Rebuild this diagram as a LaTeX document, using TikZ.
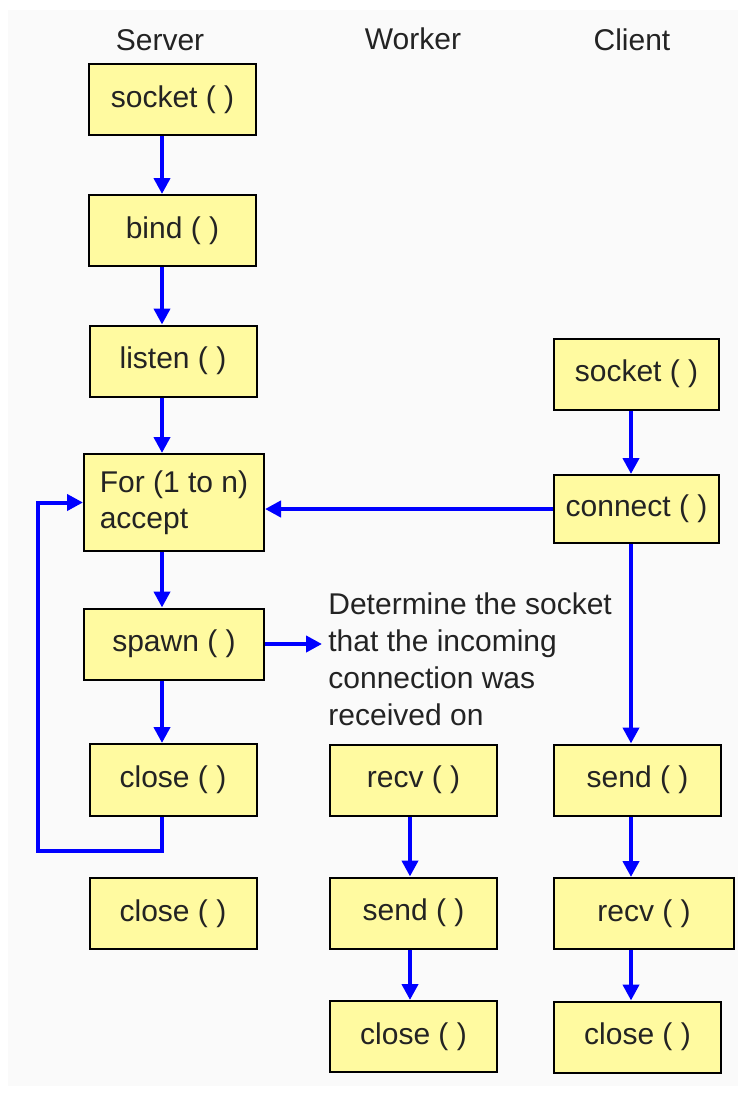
\documentclass[tikz,border=0pt]{standalone}
\usepackage{fontspec}
\setmainfont{Liberation Sans}
\usetikzlibrary{arrows.meta}
\definecolor{boxyellow}{RGB}{255,250,160}
\definecolor{flowblue}{RGB}{0,0,255}
\definecolor{bggray}{RGB}{250,250,250}
\definecolor{txtgray}{RGB}{35,35,35}
\begin{document}
\begin{tikzpicture}[x=0.5pt,y=-0.5pt,
    call/.style={draw=black,line width=1pt,fill=boxyellow,minimum width=83.5pt,minimum height=35.5pt,
                 inner sep=0pt,text=txtgray,font=\fontsize{15}{18}\selectfont},
    widecall/.style={call,minimum width=90pt},
    head/.style={text=txtgray,font=\fontsize{15}{18}\selectfont},
    flow/.style={draw=flowblue,line width=2pt,-{Triangle[length=8pt,width=8pt]}}]
		\useasboundingbox (0,0) rectangle (744,1093);
		\fill[bggray] (8,10) rectangle (738,1086);                 % Fundo
		% Colunas das setas
		\coordinate (srv) at (162,0);
		\coordinate (wrk) at (410,0);
		\coordinate (cli) at (631,0);
		\coordinate (loopCorner) at (38,851);
		% Titulos
		\node[head] (hServer) at (160,40) {Server};
		\node[head] (hWorker) at (413,39) {Worker};
		\node[head] (hClient) at (632,40) {Client};
		% Servidor
		\node[call] (sSocket) at (172.5,99.5) {socket ( )};
		\node[call] (sBind) at (172.5,230.5) {bind ( )};
		\node[call] (sListen) at (173,361) {listen ( )};
		\node[widecall,minimum height=48.5pt,align=left] (sAccept) at (174,502.5) {For (1 to n)\\accept};
		\node[widecall] (sSpawn) at (174,644) {spawn ( )};
		\node[call,minimum height=36pt] (sClose) at (173,780) {close ( )};
		\node[call] (sCloseEnd) at (173,913.5) {close ( )};
		% Worker
		\node[call] (wRecv) at (413.5,780) {recv ( )};
		\node[call] (wSend) at (413.5,913) {send ( )};
		\node[call] (wClose) at (413.5,1036.5) {close ( )};
		% Cliente
		\node[call,minimum width=82.5pt] (cSocket) at (636.5,374) {socket ( )};
		\node[call,minimum width=82.5pt,minimum height=34pt] (cConnect) at (636.5,509) {connect ( )};
		\node[call] (cSend) at (637.5,780) {send ( )};
		\node[widecall] (cRecv) at (644,913.5) {recv ( )};
		\node[call] (cClose) at (637.5,1037) {close ( )};
		% Nota do spawn
		\node[anchor=north west,inner sep=3pt,align=left,text=txtgray,font=\fontsize{15}{18.5}\selectfont] (note) at (322,586)
			{Determine the socket\\that the incoming\\connection was\\received on};
		% Setas
		\draw[flow] (sSocket.south -| srv) -- (sBind.north -| srv);
		\draw[flow] (sBind.south -| srv) -- (sListen.north -| srv);
		\draw[flow] (sListen.south -| srv) -- (sAccept.north -| srv);
		\draw[flow] (sAccept.south -| srv) -- (sSpawn.north -| srv);
		\draw[flow] (sSpawn.south -| srv) -- (sClose.north -| srv);
		\draw[flow] (sClose.south -| srv) |- (loopCorner) |- (sAccept.west);
		\draw[flow] (sSpawn.east) -- (sSpawn.east -| note.west);
		\draw[flow] (wRecv.south -| wrk) -- (wSend.north -| wrk);
		\draw[flow] (wSend.south -| wrk) -- (wClose.north -| wrk);
		\draw[flow] (cSocket.south -| cli) -- (cConnect.north -| cli);
		\draw[flow] (cConnect.west) -- (cConnect.west -| sAccept.east);
		\draw[flow] (cConnect.south -| cli) -- (cSend.north -| cli);
		\draw[flow] (cSend.south -| cli) -- (cRecv.north -| cli);
		\draw[flow] (cRecv.south -| cli) -- (cClose.north -| cli);
\end{tikzpicture}
\end{document}
